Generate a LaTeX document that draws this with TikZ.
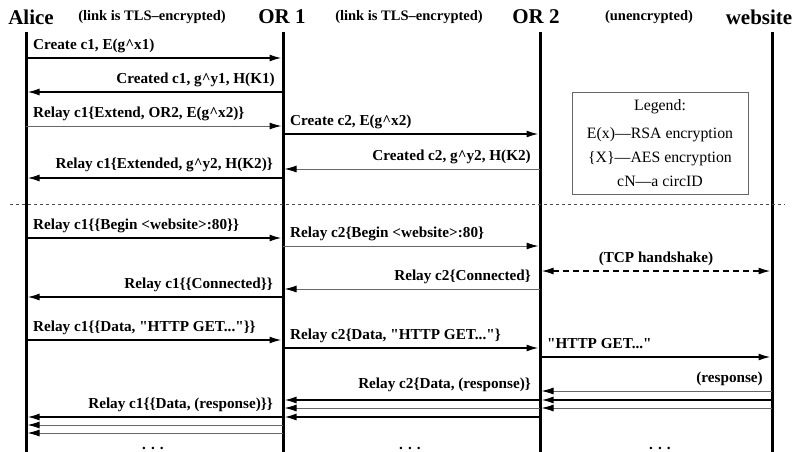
\documentclass[tikz,border=0pt]{standalone}
\usepackage{fontspec}
\setmainfont{Liberation Serif}
\usepackage{tikz}
\usetikzlibrary{positioning,arrows.meta,calc}
\tikzset{
  actor/.style    = {font=\fontsize{21}{25}\selectfont\bfseries, inner sep=0pt},
  linknote/.style = {font=\fontsize{14.5}{17}\selectfont\bfseries, inner sep=0pt},
  life/.style     = {line width=3pt, draw=black},
  msg/.style      = {-{Latex[length=12pt,width=7pt,color=black]}, line width=1.6pt,
                     draw=black, shorten >=1.5pt},
  thinmsg/.style  = {msg, line width=1pt, draw=black!60},
  tcp/.style      = {{Latex[length=12pt,width=7pt]}-{Latex[length=12pt,width=7pt]},
                     line width=1.6pt, dash pattern=on 6pt off 4pt,
                     shorten >=1.5pt, shorten <=1.5pt},
  lbl/.style      = {font=\fontsize{15.2}{18}\selectfont\bfseries, inner sep=0pt,
                     text height=0.75em, text depth=0.25em},
  legendbox/.style = {draw=black!60, line width=0.8pt, align=center,
                     minimum width=176pt, minimum height=102pt,
                     font=\fontsize{15.8}{24}\selectfont},
  sep/.style      = {line width=0.9pt, draw=black!70, dash pattern=on 3pt off 3pt},
}
\newcommand{\pow}{\textasciicircum}
\newcommand{\qt}{\textquotedbl}

\begin{document}
\begin{tikzpicture}[x=1pt,y=-1pt]
  \useasboundingbox (0,0) rectangle (803,452);

  \node[actor] (alice) at (31,17) {Alice};
  \node[linknote] (tls1) at (152,17) {(link is TLS--encrypted)};
  \node[actor] (or1) at (282,17) {OR 1};
  \node[linknote] (tls2) at (409,17) {(link is TLS--encrypted)};
  \node[actor] (or2) at (536,17) {OR 2};
  \node[linknote] (plain) at (649,17) {(unencrypted)};
  \node[actor] (web) at (759,17) {website};

  \foreach \nm/\x in {alice/26, or1/283, or2/540, web/772}{
    \coordinate (\nm-top) at (\x,32);
    \coordinate (\nm-bot) at (\x,452);
    \draw[life] (\nm-top) -- (\nm-bot);
  }

  % message rows on each pair of lifelines
  \foreach \n/\y in {1/58,2/92,3/126,4/178,5/238,6/297,7/340,8/417,9/425,10/433}{
    \coordinate (al\n) at (26,\y); \coordinate (ar\n) at (283,\y);}
  \foreach \n/\y in {1/134,2/169,3/246,4/289,5/348,6/400,7/408,8/417}{
    \coordinate (bl\n) at (283,\y); \coordinate (br\n) at (540,\y);}
  \foreach \n/\y in {1/271,2/357,3/391,4/400,5/408}{
    \coordinate (cl\n) at (540,\y); \coordinate (cr\n) at (772,\y);}

  \draw[msg] (al1) -- (ar1);
  \node[lbl, above right=5.5pt and 7pt of al1] (m1) {Create c1, E(g\pow x1)};
  \draw[msg] (ar2) -- (al2);
  \node[lbl, above left=5.5pt and 8pt of ar2] (m2) {Created c1, g\pow y1, H(K1)};
  \draw[thinmsg] (al3) -- (ar3);
  \node[lbl, above right=5.5pt and 7pt of al3] (m3) {Relay c1\{Extend, OR2, E(g\pow x2)\}};
  \draw[msg] (bl1) -- (br1);
  \node[lbl, above right=5.5pt and 7pt of bl1] (m4) {Create c2, E(g\pow x2)};
  \draw[thinmsg] (br2) -- (bl2);
  \node[lbl, above left=5.5pt and 9pt of br2] (m5) {Created c2, g\pow y2, H(K2)};
  \draw[msg] (ar4) -- (al4);
  \node[lbl, above left=7pt and 10pt of ar4] (m6) {Relay c1\{Extended, g\pow y2, H(K2)\}};

  \coordinate (sepL) at (10,204); \coordinate (sepR) at (785,204);
  \draw[sep] (sepL) -- (sepR);

  \node[legendbox] (legend) at (660,143)
    {Legend:\\[4pt] E(x)---RSA encryption\\ \{X\}---AES encryption\\ cN---a circID};

  \draw[msg] (al5) -- (ar5);
  \node[lbl, above right=5.5pt and 7pt of al5] (m7) {Relay c1\{\{Begin <website>:80\}\}};
  \draw[thinmsg] (bl3) -- (br3);
  \node[lbl, above right=5.5pt and 7pt of bl3] (m8) {Relay c2\{Begin <website>:80\}};
  \draw[tcp] (cl1) -- node[lbl, above=5.5pt] (tcpl) {(TCP handshake)} (cr1);
  \draw[thinmsg] (br4) -- (bl4);
  \node[lbl, above left=5.5pt and 9pt of br4] (m9) {Relay c2\{Connected\}};
  \draw[msg] (ar6) -- (al6);
  \node[lbl, above left=5.5pt and 10pt of ar6] (m10) {Relay c1\{\{Connected\}\}};

  \draw[msg] (al7) -- (ar7);
  \node[lbl, above right=5.5pt and 7pt of al7] (m11) {Relay c1\{\{Data, \qt HTTP GET...\qt\}\}};
  \draw[msg] (bl5) -- (br5);
  \node[lbl, above right=5.5pt and 7pt of bl5] (m12) {Relay c2\{Data, \qt HTTP GET...\qt\}};
  \draw[msg] (cl2) -- (cr2);
  \node[lbl, above right=5.5pt and 7pt of cl2] (m13) {\qt HTTP GET...\qt};

  \draw[thinmsg] (cr3) -- (cl3);
  \draw[msg] (cr4) -- (cl4);
  \draw[thinmsg] (cr5) -- (cl5);
  \node[lbl, above left=5.5pt and 9pt of cr3] (m14) {(response)};
  \draw[msg] (br6) -- (bl6);
  \draw[thinmsg] (br7) -- (bl7);
  \draw[msg] (br8) -- (bl8);
  \node[lbl, above left=9pt and 9pt of br6] (m15) {Relay c2\{Data, (response)\}};
  \draw[msg] (ar8) -- (al8);
  \draw[thinmsg] (ar9) -- (al9);
  \draw[thinmsg] (ar10) -- (al10);
  \node[lbl, above left=6pt and 10pt of ar8] (m16) {Relay c1\{\{Data, (response)\}\}};

  \node[lbl] (dots1) at (153,447) {. . .};
  \node[lbl] (dots2) at (410,447) {. . .};
  \node[lbl] (dots3) at (660,447) {. . .};
\end{tikzpicture}
\end{document}
